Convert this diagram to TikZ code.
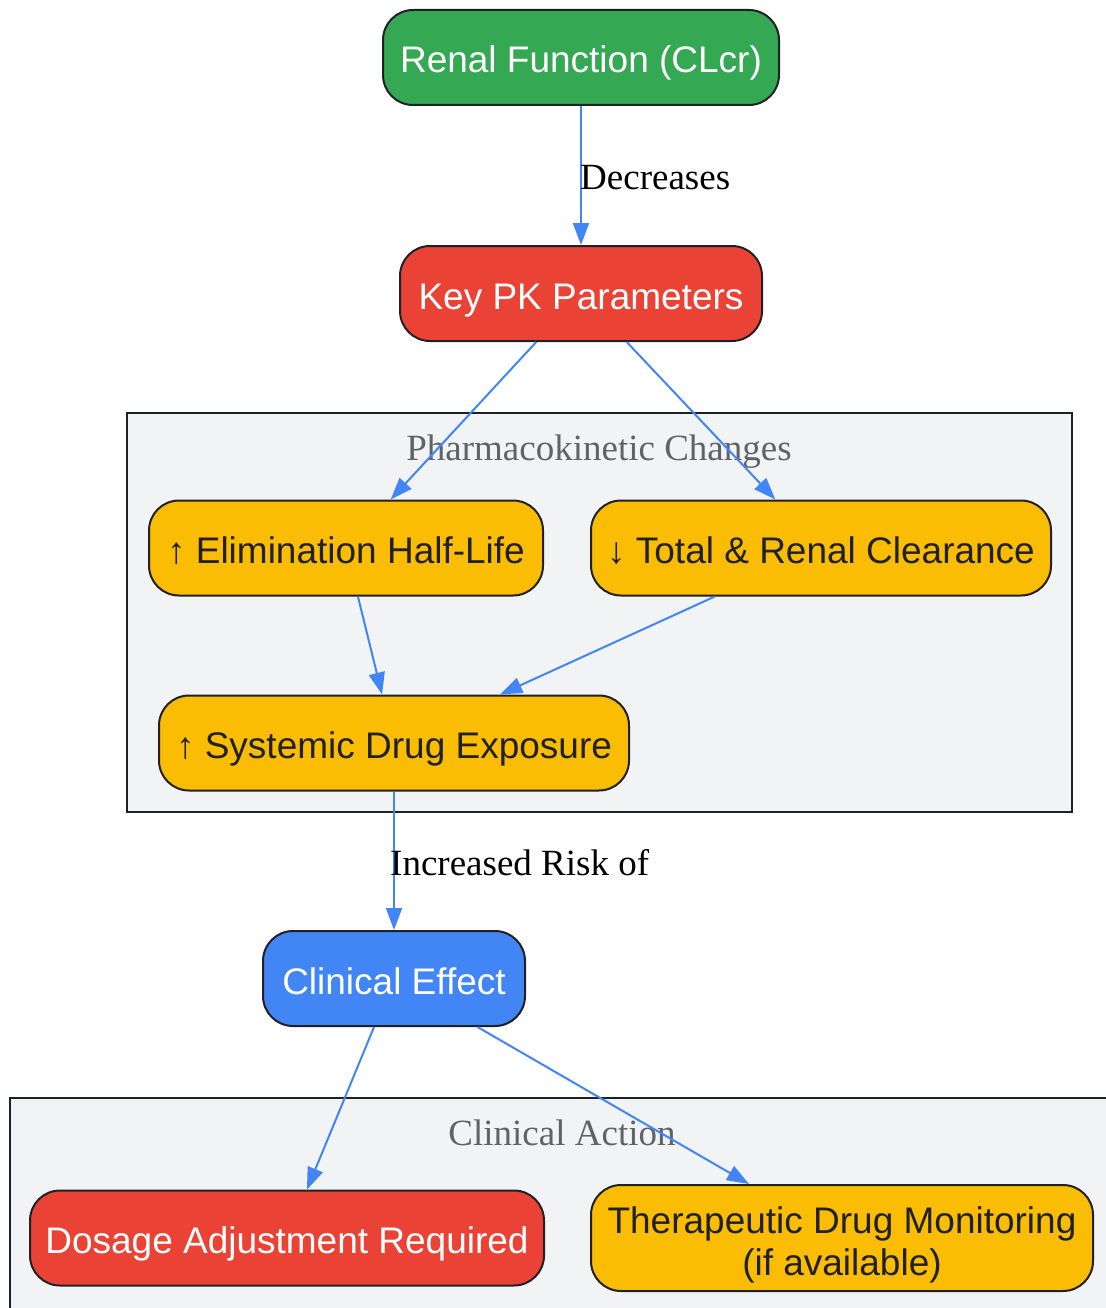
\documentclass[tikz,border=0pt]{standalone}
\usepackage{fontspec}
\setmainfont{Liberation Serif}
\newfontfamily\boxfont{Liberation Sans}
\usepackage{xcolor}
\usepackage{tikz}
\usetikzlibrary{arrows.meta}
\definecolor{gok}{HTML}{34A853}
\definecolor{gbad}{HTML}{EA4335}
\definecolor{gwarn}{HTML}{FBBC04}
\definecolor{ginfo}{HTML}{4285F4}
\definecolor{panel}{HTML}{F1F3F4}
\definecolor{ink}{HTML}{202124}
\definecolor{muted}{HTML}{5F6368}
\tikzset{
  pill/.style={rounded corners=30pt, draw=ink, line width=2pt, minimum height=95pt,
    inner sep=0pt, align=center, text height=39pt, text depth=8pt,
    font=\boxfont\fontsize{37}{42}\selectfont},
  okbox/.style={pill, fill=gok, text=white},
  badbox/.style={pill, fill=gbad, text=white},
  warnbox/.style={pill, fill=gwarn, text=ink},
  infobox/.style={pill, fill=ginfo, text=white},
  cluster/.style={draw=ink, line width=2pt, fill=panel},
  clab/.style={text=muted, font=\fontsize{37}{42}\selectfont},
  elab/.style={text=black, anchor=west, inner sep=0pt, font=\fontsize{37}{42}\selectfont},
  flow/.style={draw=ginfo, line width=2pt, -{Triangle[length=22pt,width=16pt]}},
}

\begin{document}
\begin{tikzpicture}[x=1pt, y=-1pt]
  \useasboundingbox (0,0) rectangle (1105,1308);

  % clusters
  \draw[cluster] (127,413) rectangle (1072,812);
  \node[clab] (pkcl) at (599,452) {Pharmacokinetic Changes};
  \draw[cluster] (10,1098) rectangle (1120,1330);
  \node[clab] (actcl) at (562,1133) {Clinical Action};

  % nodes
  \node[okbox, minimum width=396pt] (renal) at (581,57.5) {Renal Function (CLcr)};
  \node[badbox, minimum width=362pt] (keypk) at (581,293.5) {Key PK Parameters};
  \node[warnbox, minimum width=394pt] (halflife) at (346,548) {↑ Elimination Half-Life};
  \node[warnbox, minimum width=460pt] (clear) at (821,548) {↓ Total \& Renal Clearance};
  \node[warnbox, minimum width=470pt] (expo) at (394,743) {↑ Systemic Drug Exposure};
  \node[infobox, minimum width=262pt] (effect) at (394,978.5) {Clinical Effect};
  \node[badbox, minimum width=514pt] (dose) at (287,1238) {Dosage Adjustment Required};
  \node[warnbox, minimum width=502pt, minimum height=106pt, text height=82pt] (tdm) at (842,1238)
    {Therapeutic Drug Monitoring\\(if available)};

  % edges
  \draw[flow] (renal) -- (keypk);
  \node[elab] (declab) at (580,178) {Decreases};
  \draw[flow] (keypk) -- (halflife);
  \draw[flow] (keypk) -- (clear);
  \draw[flow] (halflife) -- (expo);
  \draw[flow] (clear) -- (expo);
  \draw[flow] (expo) -- (effect);
  \node[elab] (risklab) at (390,863) {Increased Risk of};
  \draw[flow] (effect) -- (dose);
  \draw[flow] (effect) -- (tdm);
\end{tikzpicture}
\end{document}
